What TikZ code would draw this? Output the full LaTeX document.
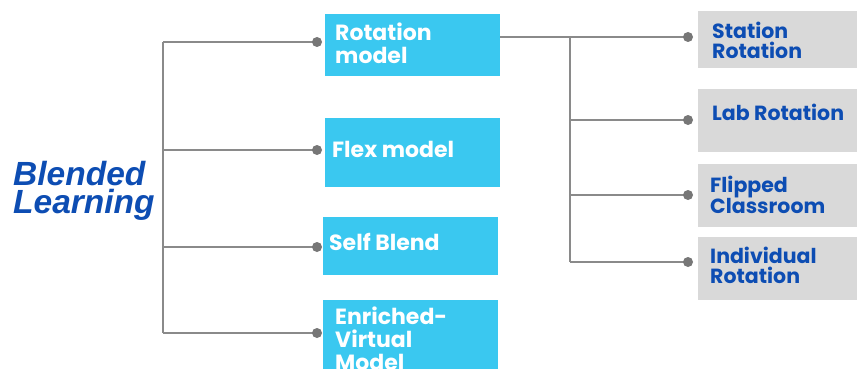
\documentclass[tikz,border=0pt]{standalone}
\usepackage{fontspec}
\newfontfamily\boxfont{Poppins}
\newfontfamily\titlefont{Liberation Sans}
\definecolor{skyblue}{HTML}{3AC8F0}
\definecolor{lightgrey}{HTML}{D9D9D9}
\definecolor{linegrey}{HTML}{8A8A8A}
\definecolor{dotgrey}{HTML}{777777}
\definecolor{deepblue}{HTML}{0D4DB3}
\begin{document}
\begin{tikzpicture}[x=1pt,y=-1pt,
  bluebox/.style={fill=skyblue,draw=none,anchor=north west,inner sep=0pt},
  greybox/.style={fill=lightgrey,draw=none,anchor=north west,inner sep=0pt},
  bluetext/.style={text=white,font=\boxfont\bfseries\fontsize{22}{23}\selectfont,align=left,inner sep=0pt},
  greytext/.style={text=deepblue,font=\boxfont\bfseries\fontsize{20.5}{20}\selectfont,align=left,inner sep=0pt},
  conn/.style={draw=linegrey,line width=1.6pt},
  dotmark/.style={fill=dotgrey,draw=none}]
\useasboundingbox (0,0) rectangle (857,369);
\fill[white] (0,0) rectangle (857,369);
% title
\node[anchor=north west,text=deepblue,font=\titlefont\bfseries\itshape\fontsize{33.5}{28}\selectfont,align=left,inner sep=0pt] (title) at (13,161) {Blended\\Learning};
% blue boxes
\node[bluebox,minimum width=175pt,minimum height=62pt] (rot) at (325,14) {};
\node[bluetext,anchor=north west] (rottext) at (335,22.7) {Rotation\\model};
\node[bluebox,minimum width=175pt,minimum height=69pt] (flex) at (325,118) {};
\node[bluetext,anchor=base west] (flextext) at (332,157) {Flex model};
\node[bluebox,minimum width=175pt,minimum height=58pt] (self) at (323,217) {};
\node[bluetext,anchor=base west] (selftext) at (329,250) {Self Blend};
\node[bluebox,minimum width=175pt,minimum height=80pt] (enr) at (323,300) {};
\node[bluetext,anchor=north west] (enrtext) at (335,306.7) {Enriched-\\Virtual\\Model};
% grey boxes
\node[greybox,minimum width=170pt,minimum height=57pt] (sta) at (698,11) {};
\node[greytext,anchor=north west] (statext) at (712,21.5) {Station\\Rotation};
\node[greybox,minimum width=170pt,minimum height=63pt] (lab) at (698,89) {};
\node[greytext,anchor=base west] (labtext) at (712,121) {Lab Rotation};
\node[greybox,minimum width=170pt,minimum height=63pt] (fli) at (698,164) {};
\node[greytext,anchor=north west] (flitext) at (710,175.5) {Flipped\\Classroom};
\node[greybox,minimum width=170pt,minimum height=63pt] (ind) at (698,237) {};
\node[greytext,anchor=north west] (indtext) at (710,246.5) {Individual\\Rotation};
% left connectors
\coordinate (lt1) at (163,42);
\coordinate (lt2) at (163,150);
\coordinate (lt3) at (163,247);
\coordinate (lt4) at (163,333);
\coordinate (ld1) at (317,42);
\coordinate (ld2) at (317,150);
\coordinate (ld3) at (317,247);
\coordinate (ld4) at (317,333);
\draw[conn] (lt1) -- (lt4);
\draw[conn] (lt1) -- (ld1);
\draw[conn] (lt2) -- (ld2);
\draw[conn] (lt3) -- (ld3);
\draw[conn] (lt4) -- (ld4);
\foreach \d in {ld1,ld2,ld3,ld4} \fill[dotmark] (\d) circle (5pt);
% right connectors
\coordinate (rs) at (rot.east |- 0,37);
\coordinate (rt1) at (570,37);
\coordinate (rt2) at (570,120);
\coordinate (rt3) at (570,195);
\coordinate (rt4) at (570,262);
\coordinate (rd1) at (688,37);
\coordinate (rd2) at (688,120);
\coordinate (rd3) at (688,195);
\coordinate (rd4) at (688,262);
\draw[conn] (rs) -- (rd1);
\draw[conn] (rt1) -- (rt4);
\draw[conn] (rt2) -- (rd2);
\draw[conn] (rt3) -- (rd3);
\draw[conn] (rt4) -- (rd4);
\foreach \d in {rd1,rd2,rd3,rd4} \fill[dotmark] (\d) circle (5pt);
\end{tikzpicture}
\end{document}
